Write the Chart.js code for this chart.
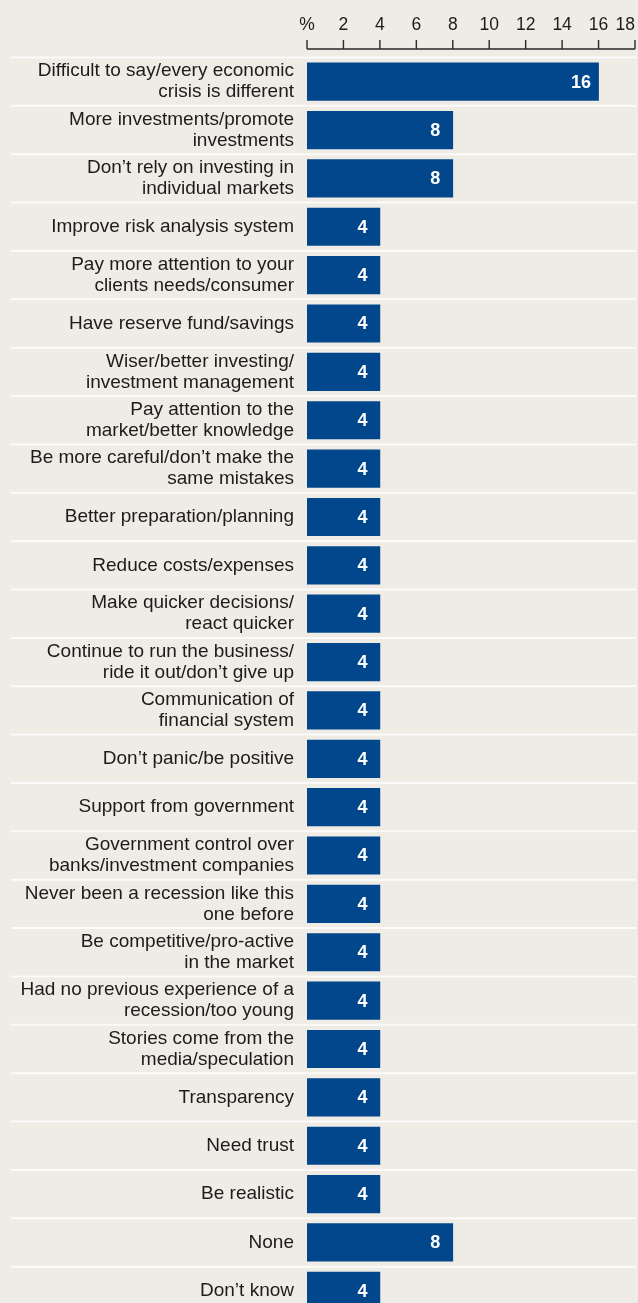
<!DOCTYPE html>
<html>
<head>
<meta charset="utf-8">
<script src="https://cdn.jsdelivr.net/npm/chart.js@4/dist/chart.umd.min.js"></script>
<style>
  html, body { margin: 0; padding: 0; background: #efebe5; }
  #wrap { width: 638px; height: 1303px; overflow: hidden; position: relative; }
  canvas { display: block; }
</style>
</head>
<body>
<div id="wrap"><canvas id="chart" width="638" height="1315"></canvas></div>
<script>
// Survey answers (each entry is one label, split into its printed lines)
const categories = [
  ['Difficult to say/every economic', 'crisis is different'],
  ['More investments/promote', 'investments'],
  ['Don\u2019t rely on investing in', 'individual markets'],
  ['Improve risk analysis system'],
  ['Pay more attention to your', 'clients needs/consumer'],
  ['Have reserve fund/savings'],
  ['Wiser/better investing/', 'investment management'],
  ['Pay attention to the', 'market/better knowledge'],
  ['Be more careful/don\u2019t make the', 'same mistakes'],
  ['Better preparation/planning'],
  ['Reduce costs/expenses'],
  ['Make quicker decisions/', 'react quicker'],
  ['Continue to run the business/', 'ride it out/don\u2019t give up'],
  ['Communication of', 'financial system'],
  ['Don\u2019t panic/be positive'],
  ['Support from government'],
  ['Government control over', 'banks/investment companies'],
  ['Never been a recession like this', 'one before'],
  ['Be competitive/pro-active', 'in the market'],
  ['Had no previous experience of a', 'recession/too young'],
  ['Stories come from the', 'media/speculation'],
  ['Transparency'],
  ['Need trust'],
  ['Be realistic'],
  ['None'],
  ['Don\u2019t know']
];

// Share of respondents, %
const values = [16, 8, 8, 4, 4, 4, 4, 4, 4, 4, 4, 4, 4, 4, 4, 4, 4, 4, 4, 4, 4, 4, 4, 4, 8, 4];

// Top axis
const axisMin = 0;
const axisMax = 18;
const axisStep = 2;
const tickLabels = ['%', '2', '4', '6', '8', '10', '12', '14', '16', '18'];

const BAR_COLOR = '#02478c';
const TEXT_COLOR = '#1c1c1c';
const SEP_COLOR = '#fcfbf9';
const FONT = '"Liberation Sans", Arial, Helvetica, sans-serif';

// White row separators spanning labels and bars
const rowSeparators = {
  id: 'rowSeparators',
  beforeDatasetsDraw(chart) {
    const y = chart.scales.y;
    const ctx = chart.ctx;
    const n = chart.data.labels.length;
    const step = n > 1 ? y.getPixelForTick(1) - y.getPixelForTick(0) : y.height;
    ctx.save();
    ctx.strokeStyle = SEP_COLOR;
    ctx.lineWidth = 2;
    for (let i = 0; i <= n; i++) {
      const py = y.getPixelForTick(0) - step / 2 + i * step;
      ctx.beginPath();
      ctx.moveTo(11, py);
      ctx.lineTo(636, py);
      ctx.stroke();
    }
    ctx.restore();
  }
};

// Axis rule with upward tick marks, sitting just above the first row
const topAxisRule = {
  id: 'topAxisRule',
  afterDraw(chart) {
    const x = chart.scales.x;
    const ctx = chart.ctx;
    const yLine = chart.chartArea.top - 8.5;
    ctx.save();
    ctx.strokeStyle = '#2a2a2a';
    ctx.lineWidth = 1.4;
    ctx.beginPath();
    ctx.moveTo(x.getPixelForValue(axisMin), yLine);
    ctx.lineTo(x.getPixelForValue(axisMax), yLine);
    for (let v = axisMin; v <= axisMax; v += axisStep) {
      const px = x.getPixelForValue(v);
      ctx.moveTo(px, yLine);
      ctx.lineTo(px, yLine - 9);
    }
    ctx.stroke();
    ctx.restore();
  }
};

// Bold white value inside the end of each bar
const barValues = {
  id: 'barValues',
  afterDatasetsDraw(chart) {
    const ctx = chart.ctx;
    const meta = chart.getDatasetMeta(0);
    ctx.save();
    ctx.fillStyle = '#ffffff';
    ctx.font = 'bold 18px ' + FONT;
    ctx.textAlign = 'center';
    ctx.textBaseline = 'middle';
    meta.data.forEach((bar, i) => {
      ctx.fillText(String(values[i]), bar.x - 17.5, bar.y + 1);
    });
    ctx.restore();
  }
};

new Chart(document.getElementById('chart'), {
  type: 'bar',
  data: {
    labels: categories,
    datasets: [{
      data: values,
      backgroundColor: BAR_COLOR,
      borderWidth: 0,
      barThickness: 37.5
    }]
  },
  options: {
    indexAxis: 'y',
    responsive: false,
    animation: false,
    devicePixelRatio: 1,
    layout: { padding: { top: 0, right: 3, bottom: 0, left: 0 } },
    plugins: {
      legend: { display: false },
      tooltip: { enabled: false }
    },
    scales: {
      x: {
        position: 'top',
        min: axisMin,
        max: axisMax,
        grid: { display: false, drawTicks: false },
        border: { display: false },
        ticks: {
          stepSize: axisStep,
          padding: 22,
          color: TEXT_COLOR,
          font: { family: FONT, size: 17.5 },
          maxRotation: 0,
          autoSkip: false,
          callback: (v, i) => {
            const t = tickLabels[i];
            // last label kept inside the canvas edge
            return i === tickLabels.length - 1 ? t + '\u2007\u2007' : t;
          }
        },
        afterFit: (s) => {
          s.height = 57.5;
          s.paddingLeft = 0;
          s.paddingRight = 0;
        }
      },
      y: {
        offset: true,
        grid: { display: false, drawTicks: false },
        border: { display: false },
        ticks: {
          padding: 13,
          color: TEXT_COLOR,
          autoSkip: false,
          font: { family: FONT, size: 19, lineHeight: 1.1 }
        },
        afterFit: (s) => {
          s.width = 307;
          s.paddingTop = 0;
          s.paddingBottom = 0;
        }
      }
    }
  },
  plugins: [rowSeparators, topAxisRule, barValues]
});
</script>
</body>
</html>
